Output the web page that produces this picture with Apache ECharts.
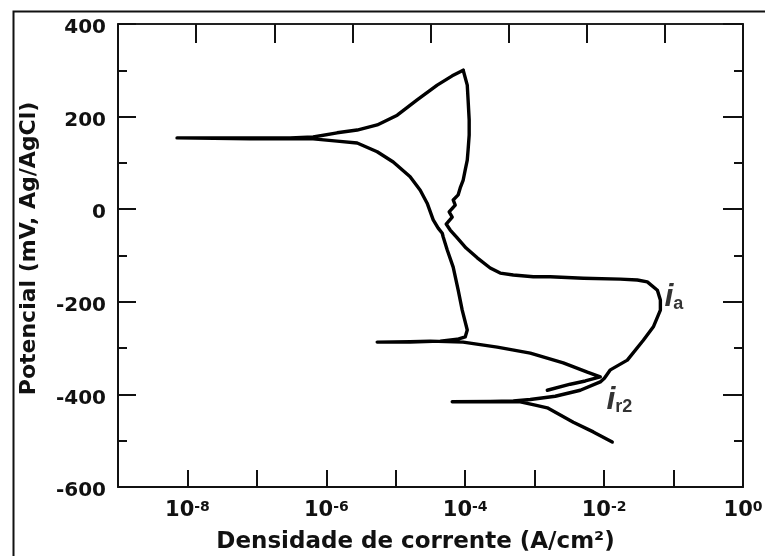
<!DOCTYPE html>
<html>
<head>
<meta charset="utf-8">
<script src="https://cdn.jsdelivr.net/npm/echarts/dist/echarts.min.js"></script>
<style>
  html, body { margin: 0; padding: 0; background: #fff; }
  #chart { width: 765px; height: 556px; }
</style>
</head>
<body>
<div id="chart"></div>
<script>
// Cyclic polarization curve: current density (A/cm²) vs potential (mV, Ag/AgCl)

// Forward (anodic) scan: cathodic tail -> corrosion potential -> active peak -> passive range -> vertex
const varreduraDireta = [
  [1.31e-2, -503], [6.98e-3, -481], [3.60e-3, -460], [1.52e-3, -429], [1.02e-3, -423],
  [6.21e-4, -416], [2.29e-4, -416], [6.50e-5, -416], [2.29e-4, -415], [4.92e-4, -414],
  [8.65e-4, -411], [1.98e-3, -404], [4.54e-3, -391], [8.81e-3, -373], [1.01e-2, -365],
  [1.23e-2, -347], [2.16e-2, -326], [3.67e-2, -283], [5.12e-2, -254], [6.46e-2, -218],
  [6.46e-2, -196], [5.85e-2, -175], [4.19e-2, -157], [3.01e-2, -153], [1.71e-2, -151],
  [5.01e-3, -149], [1.68e-3, -146], [9.55e-4, -146], [4.92e-4, -142], [3.19e-4, -138],
  [2.29e-4, -127], [1.49e-4, -105], [1.03e-4, -84], [7.67e-5, -62], [6.08e-5, -45],
  [5.32e-5, -32], [6.50e-5, -17], [5.87e-5, -6], [7.18e-5, 9], [6.71e-5, 20],
  [7.92e-5, 31], [8.47e-5, 46], [9.35e-5, 63], [1.00e-4, 85], [1.07e-4, 106],
  [1.10e-4, 128], [1.14e-4, 160], [1.14e-4, 193], [1.10e-4, 236], [1.07e-4, 268],
  [9.35e-5, 300]
];

// Reverse scan: vertex -> second corrosion potential -> cathodic branch -> end
const varreduraReversa = [
  [9.35e-5, 300], [6.50e-5, 288], [3.95e-5, 268], [2.03e-5, 236], [1.05e-5, 203],
  [5.40e-6, 182], [2.78e-6, 171], [1.43e-6, 165], [6.46e-7, 156], [3.01e-7, 154],
  [7.98e-8, 154], [7.08e-9, 154], [7.98e-8, 152], [6.46e-7, 152], [1.43e-6, 147],
  [2.78e-6, 143], [5.40e-6, 124], [9.19e-6, 102], [1.61e-5, 70], [2.25e-5, 41],
  [2.83e-5, 13], [3.46e-5, -23], [4.08e-5, -41], [4.67e-5, -52], [4.82e-5, -60],
  [5.51e-5, -88], [6.71e-5, -125], [7.92e-5, -175], [9.05e-5, -218], [1.07e-4, -261],
  [1.00e-4, -276], [7.67e-5, -281], [4.37e-5, -285], [1.61e-5, -287], [5.40e-6, -287],
  [1.61e-5, -286], [3.13e-5, -285], [9.35e-5, -287], [2.89e-4, -298], [8.65e-4, -311],
  [2.58e-3, -332], [5.73e-3, -352], [8.81e-3, -362], [5.36e-3, -371], [3.26e-3, -378],
  [1.52e-3, -391]
];

// Curve annotations: [current, potential, subscript]
const rotulos = [
  [1.01e-1, -190, 'a'],
  [1.66e-2, -412, 'r2']
];

// Axis ranges and labels
const xMin = 1e-9, xMax = 1;
const xLabelExponents = [-8, -6, -4, -2, 0];
const yMin = -600, yMax = 400, yStep = 200;
const xTitle = 'Densidade de corrente (A/cm²)';
const yTitle = 'Potencial (mV, Ag/AgCl)';

const ink = '#111';
const font = 'DejaVu Sans';

const chart = echarts.init(document.getElementById('chart'), null, { renderer: 'canvas' });

const curveStyle = { color: '#000', width: 3.4, join: 'round', cap: 'round' };

const yAxisBase = {
  type: 'value', min: yMin, max: yMax, interval: yStep,
  axisLine: { show: true, onZero: false, lineStyle: { color: ink, width: 2 } },
  axisTick: { show: true, inside: true, length: 18, lineStyle: { color: ink, width: 2 } },
  minorTick: { show: true, splitNumber: 2, length: 9, lineStyle: { color: ink, width: 2 } },
  splitLine: { show: false },
  minorSplitLine: { show: false }
};

chart.setOption({
  animation: false,
  backgroundColor: '#fff',
  grid: { left: 118, right: 22, top: 24, bottom: 69, containLabel: false, outerBoundsMode: 'none' },
  graphic: [{
    type: 'rect', left: 11, top: 9, silent: true, z: -10,
    shape: { width: 820, height: 620 },
    style: { fill: 'none', stroke: ink, lineWidth: 2 }
  }],
  xAxis: [{
    type: 'log', logBase: 10, min: xMin, max: xMax, position: 'bottom',
    axisLine: { show: true, onZero: false, lineStyle: { color: ink, width: 2 } },
    axisTick: { show: true, inside: true, length: 17, lineStyle: { color: ink, width: 2 } },
    minorTick: { show: false },
    splitLine: { show: false },
    axisLabel: {
      show: true, margin: 13,
      formatter: function (v) {
        const e = Math.round(Math.log10(v));
        return xLabelExponents.indexOf(e) >= 0 ? '{b|10}{s|' + e + '}' : '';
      },
      rich: {
        b: { fontSize: 21, fontFamily: font, fontWeight: 'bold', color: ink },
        s: { fontSize: 14, fontFamily: font, fontWeight: 'bold', color: ink, verticalAlign: 'top' }
      }
    },
    name: xTitle, nameLocation: 'middle', nameGap: 44,
    nameTextStyle: { fontSize: 23, fontFamily: font, fontWeight: 'bold', color: ink, padding: [0, 30, 0, 0] }
  }, {
    type: 'value', min: 0, max: 8, interval: 1, position: 'top',
    axisLine: { show: true, onZero: false, lineStyle: { color: '#222', width: 2 } },
    axisTick: { show: true, inside: true, length: 19, lineStyle: { color: ink, width: 2 } },
    axisLabel: { show: false },
    splitLine: { show: false }
  }],
  yAxis: [Object.assign({}, yAxisBase, {
    position: 'left',
    axisLabel: {
      show: true, margin: 12,
      formatter: function (v) { return '{v|' + v + '}'; },
      rich: {
        v: { fontSize: 20, fontFamily: font, fontWeight: 'bold', color: ink, padding: [8, 0, 0, 0] }
      }
    },
    name: yTitle, nameLocation: 'middle', nameGap: 78,
    nameTextStyle: { fontSize: 22, fontFamily: font, fontWeight: 'bold', color: ink, padding: [0, 0, 0, 14] }
  }), Object.assign({}, yAxisBase, {
    position: 'right',
    axisTick: { show: true, inside: true, length: 20, lineStyle: { color: ink, width: 2 } },
    axisLabel: { show: false }
  })],
  series: [{
    name: 'Varredura direta', type: 'line', xAxisIndex: 0, yAxisIndex: 0,
    data: varreduraDireta, symbol: 'none', smooth: false, lineStyle: curveStyle, z: 3
  }, {
    name: 'Varredura reversa', type: 'line', xAxisIndex: 0, yAxisIndex: 0,
    data: varreduraReversa, symbol: 'none', smooth: false, lineStyle: curveStyle, z: 3
  }, {
    name: 'Rótulos', type: 'scatter', xAxisIndex: 0, yAxisIndex: 0,
    data: rotulos, symbolSize: 2, itemStyle: { color: 'rgba(0,0,0,0)' },
    encode: { x: 0, y: 1 },
    label: {
      show: true, position: 'inside', color: '#000',
      formatter: function (p) { return '{i|i}{s|' + p.data[2] + '}'; },
      rich: {
        i: { fontSize: 32, fontFamily: 'Liberation Sans', fontStyle: 'italic', fontWeight: 'bold', color: '#000' },
        s: { fontSize: 18, fontFamily: 'Liberation Sans', fontWeight: 'bold', color: '#000', verticalAlign: 'bottom' }
      }
    },
    labelLayout: { hideOverlap: false },
    z: 4
  }]
});
</script>
</body>
</html>
